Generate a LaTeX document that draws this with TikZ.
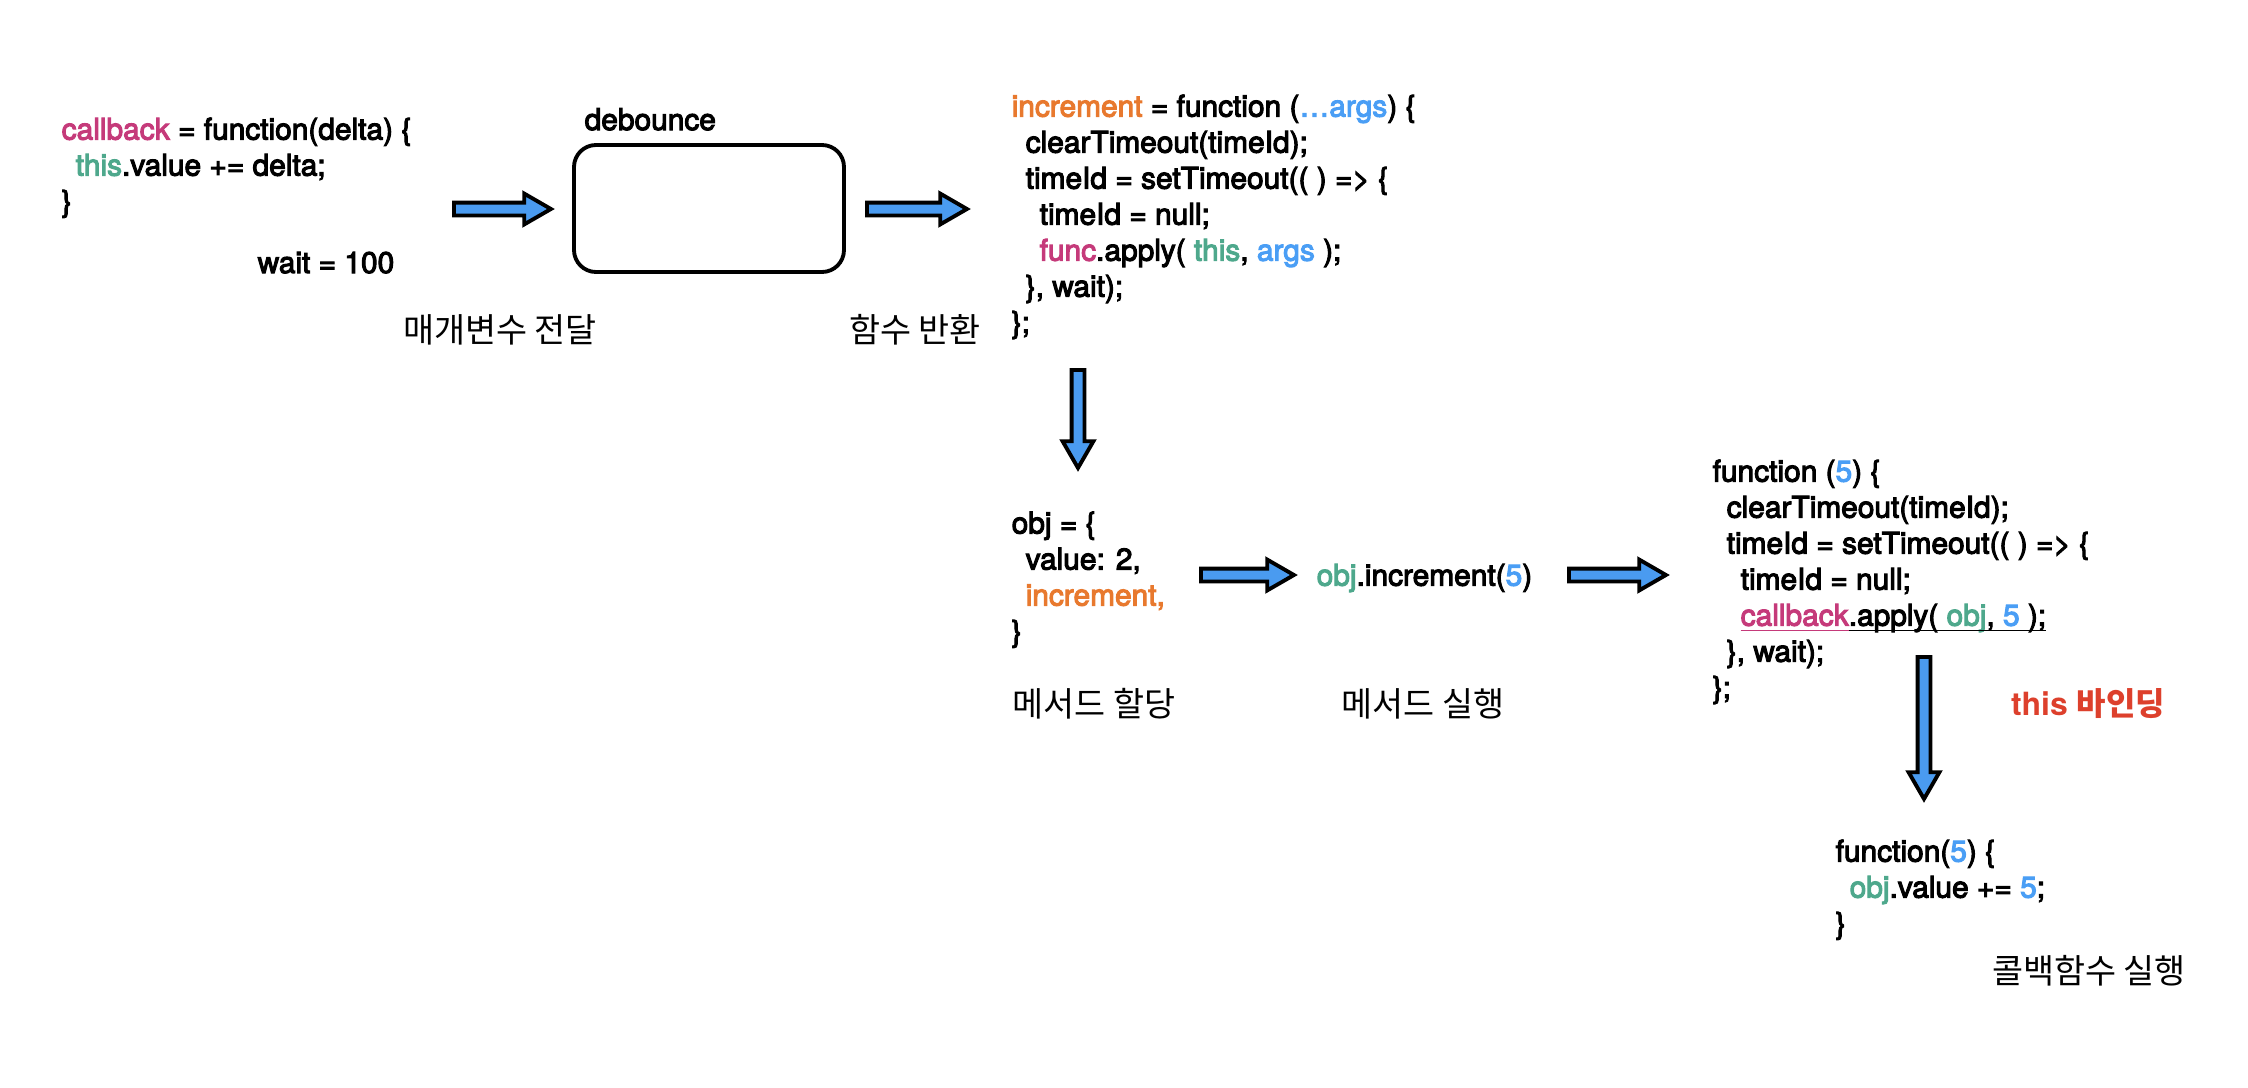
\documentclass[tikz,border=0pt]{standalone}
\usepackage{fontspec}
\setmainfont{TeX Gyre Heros}
\newfontfamily\codefont{TeX Gyre Heros}[FakeBold=3.5]
\newfontfamily\kofont{Noto Sans CJK KR}
\usetikzlibrary{shapes.arrows}

\definecolor{cbpink}{RGB}{197,58,122}
\definecolor{thisgreen}{RGB}{78,168,140}
\definecolor{argblue}{RGB}{74,158,245}
\definecolor{incorange}{RGB}{232,121,46}
\definecolor{bindred}{RGB}{221,64,44}
\definecolor{arrowblue}{RGB}{74,155,240}

\newcommand{\ind}{\hspace*{0.14cm}}
\newcommand{\ulsmash}[1]{\underline{\smash{#1}}}

\tikzset{
  codeblock/.style={font=\codefont\fontsize{8.5}{10.25}\selectfont, align=left, inner sep=0pt, anchor=north west},
  kolabel/.style={font=\kofont\fontsize{9.6}{11}\selectfont, inner sep=0pt},
  blockarrow/.style={single arrow, draw=black, fill=arrowblue, line width=1.1pt,
    inner sep=0pt, inner ysep=0.045cm, single arrow head extend=0.09cm,
    single arrow tip angle=60, anchor=tail},
}

\begin{document}
\begin{tikzpicture}
  \useasboundingbox (0,0) rectangle (22.48,-10.88);

  % callback and wait
  \node[codeblock] (callback) at (0.61,-1.17) {{\color{cbpink}callback} = function(delta) \{\\
    \ind{\color{thisgreen}this}.value += delta;\\
    \}};
  \node[codeblock, anchor=base west] (wait) at (2.57,-2.73) {wait = 100};

  % debounce box
  \node[codeblock, anchor=base west] (debouncelabel) at (5.84,-1.30) {debounce};
  \node[draw, rounded corners=0.22cm, line width=1.1pt, minimum width=2.70cm, minimum height=1.27cm] (debounce) at (7.09,-2.085) {};

  % returned function
  \node[codeblock] (increment) at (10.11,-0.94) {{\color{incorange}increment} = function ({\color{argblue}…args}) \{\\
    \ind clearTimeout(timeId);\\
    \ind timeId = setTimeout(( ) => \{\\
    \ind\ind timeId = null;\\
    \ind\ind{\color{cbpink}func}.apply( {\color{thisgreen}this}, {\color{argblue}args} );\\
    \ind\}, wait);\\
    \};};

  % object and call
  \node[codeblock] (obj) at (10.11,-5.11) {obj = \{\\
    \ind value: 2,\\
    \ind{\color{incorange}increment,}\\
    \}};
  \node[codeblock, anchor=west] (call) at (13.16,-5.78) {{\color{thisgreen}obj}.increment({\color{argblue}5})};

  % bound function
  \node[codeblock] (bound) at (17.12,-4.59) {function ({\color{argblue}5}) \{\\
    \ind clearTimeout(timeId);\\
    \ind timeId = setTimeout(( ) => \{\\
    \ind\ind timeId = null;\\
    \ind\ind{\color{cbpink}\ulsmash{callback}}\ulsmash{.apply( {\color{thisgreen}obj}, {\color{argblue}5} );}\\
    \ind\}, wait);\\
    \};};
  \node[codeblock] (result) at (18.35,-8.39) {function({\color{argblue}5}) \{\\
    \ind{\color{thisgreen}obj}.value += {\color{argblue}5};\\
    \}};

  % arrows
  \node[blockarrow, minimum height=0.97cm] (arrowpass) at (4.52,-2.09) {};
  \node[blockarrow, minimum height=1.00cm] (arrowreturn) at (8.65,-2.09) {};
  \node[blockarrow, minimum height=0.98cm, rotate=-90] (arrowassign) at (10.78,-3.68) {};
  \node[blockarrow, minimum height=0.93cm] (arrowcall) at (11.99,-5.75) {};
  \node[blockarrow, minimum height=0.97cm] (arrowrun) at (15.67,-5.75) {};
  \node[blockarrow, minimum height=1.42cm, rotate=-90] (arrowbind) at (19.24,-6.55) {};

  % step labels
  \node[kolabel] (passlabel) at (5.00,-3.30) {매개변수 전달};
  \node[kolabel] (returnlabel) at (9.15,-3.30) {함수 반환};
  \node[kolabel] (assignlabel) at (10.94,-7.04) {메서드 할당};
  \node[kolabel] (calllabel) at (14.23,-7.04) {메서드 실행};
  \node[kolabel] (runlabel) at (20.89,-9.71) {콜백함수 실행};
  \node[inner sep=0pt, text=bindred, font=\bfseries\fontsize{9.1}{11}\selectfont] (bindlabel) at (20.88,-7.04) {this {\kofont\bfseries 바인딩}};
\end{tikzpicture}
\end{document}
